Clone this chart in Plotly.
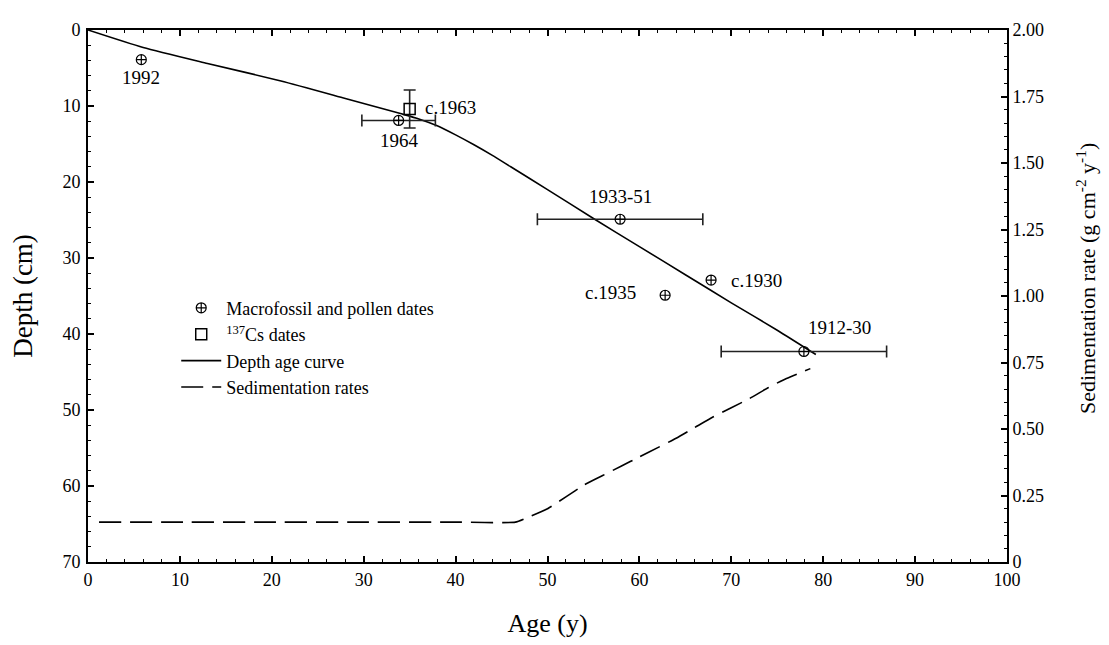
import plotly.graph_objects as go

# ---------------- data ----------------
# Depth-age curve (age in years, depth in cm)
curve_age = [0, 6, 13, 21, 28, 34, 36, 38, 40, 42, 44, 46, 50, 55, 60, 65, 70, 75, 79.2]
curve_depth = [0, 2.3, 4.4, 6.7, 9.0, 11.0, 11.7, 12.6, 13.8, 15.1, 16.5, 18.0, 21.0,
               24.8, 28.5, 32.2, 35.9, 39.5, 42.7]

# Sedimentation rates (age in years, rate in g cm-2 y-1)
sed_age = [1.2, 10, 20, 30, 40, 46.5, 48, 50, 52, 54, 56, 58, 60, 62, 64, 66, 68, 70, 72,
           74, 76, 78.6]
sed_rate = [0.15, 0.15, 0.15, 0.15, 0.15, 0.15, 0.17, 0.20, 0.245, 0.29, 0.325, 0.36,
            0.395, 0.43, 0.465, 0.505, 0.545, 0.58, 0.615, 0.655, 0.69, 0.727]

# Macrofossil and pollen dates
mp_age = [5.8, 33.8, 57.9, 62.8, 67.8, 77.9]
mp_depth = [3.9, 11.9, 24.9, 34.9, 32.9, 42.3]
mp_age_err = [0, 4, 9, 0, 0, 9]
mp_label = ["1992", "1964", "1933-51", "c.1935", "c.1930", "1912-30"]

# 137Cs dates
cs_age = [35.0]
cs_depth = [10.4]
cs_depth_err = [2.5]
cs_label = ["c.1963"]

# tick labels
x_ticks = [0, 10, 20, 30, 40, 50, 60, 70, 80, 90, 100]
y_ticks = [0, 10, 20, 30, 40, 50, 60, 70]
y2_ticks = [0, 0.25, 0.5, 0.75, 1.0, 1.25, 1.5, 1.75, 2.0]
y2_ticktext = ["0", "0.25", "0.50", "0.75", "1.00", "1.25", "1.50", "1.75", "2.00"]

FONT = "Liberation Serif, Times New Roman, serif"

fig = go.Figure()

# depth-age curve
fig.add_trace(go.Scatter(x=curve_age, y=curve_depth, mode="lines",
                         line=dict(color="black", width=1.6, shape="spline", smoothing=0.6),
                         name="Depth age curve", showlegend=False))

# macrofossil points without error bars (legend entry)
noerr = [i for i, e in enumerate(mp_age_err) if e == 0]
witherr = [i for i, e in enumerate(mp_age_err) if e > 0]
marker_mp = dict(symbol="circle-cross-open", size=10, color="black",
                 line=dict(color="black", width=1.2))
fig.add_trace(go.Scatter(x=[mp_age[i] for i in noerr], y=[mp_depth[i] for i in noerr],
                         mode="markers", marker=marker_mp,
                         name="Macrofossil and pollen dates", showlegend=True))
fig.add_trace(go.Scatter(x=[mp_age[i] for i in witherr], y=[mp_depth[i] for i in witherr],
                         mode="markers", marker=marker_mp,
                         error_x=dict(type="data", array=[mp_age_err[i] for i in witherr],
                                      color="#222", thickness=1.6, width=6),
                         name="Macrofossil and pollen dates", showlegend=False))

# 137Cs dates
fig.add_trace(go.Scatter(x=cs_age, y=cs_depth, mode="markers",
                         marker=dict(symbol="square-open", size=11, color="black",
                                     line=dict(color="black", width=1.5)),
                         error_y=dict(type="data", array=cs_depth_err,
                                      color="#222", thickness=1.6, width=6),
                         name="<sup>137</sup>Cs dates"))

# legend-only entry for the depth age curve (keeps legend order)
fig.add_trace(go.Scatter(x=[None], y=[None], mode="lines",
                         line=dict(color="black", width=1.6), name="Depth age curve"))

# sedimentation rates on secondary axis
fig.add_trace(go.Scatter(x=sed_age, y=sed_rate, mode="lines", yaxis="y2",
                         line=dict(color="black", width=1.6, dash="22px,9px",
                                   shape="spline", smoothing=0.5),
                         name="Sedimentation rates"))

# labels for points
lab_pos = {
    "1992": dict(dx=0, dy=2.4, xanchor="center"),
    "1964": dict(dx=0.1, dy=2.6, xanchor="center"),
    "1933-51": dict(dx=0, dy=-3.0, xanchor="center"),
    "c.1935": dict(dx=-2.9, dy=-0.3, xanchor="right"),
    "c.1930": dict(dx=1.9, dy=0.0, xanchor="left"),
    "1912-30": dict(dx=3.9, dy=-3.2, xanchor="center"),
}
for a, d, lab in zip(mp_age, mp_depth, mp_label):
    p = lab_pos[lab]
    fig.add_annotation(x=a + p["dx"], y=d + p["dy"], text=lab, showarrow=False,
                       xanchor=p["xanchor"], yanchor="middle",
                       font=dict(family=FONT, size=19, color="black"))
for a, d, lab in zip(cs_age, cs_depth, cs_label):
    fig.add_annotation(x=a + 1.5, y=d - 0.2, text=lab, showarrow=False,
                       xanchor="left", yanchor="middle",
                       font=dict(family=FONT, size=19, color="black"))

# right axis title (placed as rotated text so it sits where the reference has it)
fig.add_annotation(xref="paper", yref="paper", x=1.086, y=0.532,
                   text="Sedimentation rate (g cm<sup>-2</sup> y<sup>-1</sup>)",
                   textangle=-90, showarrow=False, xanchor="center", yanchor="middle",
                   font=dict(family=FONT, size=22, color="black"))

axis_common = dict(showgrid=False, zeroline=False, showline=True, linecolor="black",
                   linewidth=2, ticks="inside", ticklen=6, tickwidth=1.5, tickcolor="black",
                   tickfont=dict(family=FONT, size=18, color="black"))

fig.update_layout(
    width=1101, height=637,
    margin=dict(l=80, r=102, t=16, b=78),
    paper_bgcolor="white", plot_bgcolor="white",
    font=dict(family=FONT, size=18, color="black"),
    xaxis=dict(range=[0, 100], tickvals=x_ticks, mirror="ticks",
               minor=dict(dtick=2, ticks="inside", ticklen=3, tickcolor="black", tickwidth=1),
               title=dict(text="Age (y)", font=dict(family=FONT, size=26), standoff=25),
               **axis_common),
    yaxis=dict(range=[70, 0], tickvals=y_ticks, ticklabelstandoff=2,
               minor=dict(dtick=2, ticks="inside", ticklen=3, tickcolor="black", tickwidth=1),
               title=dict(text="Depth (cm)", font=dict(family=FONT, size=27), standoff=22),
               **axis_common),
    yaxis2=dict(range=[0, 2], overlaying="y", side="right", tickvals=y2_ticks,
                ticktext=y2_ticktext,
                minor=dict(dtick=0.05, ticks="inside", ticklen=3, tickcolor="black", tickwidth=1),
                **axis_common),
    legend=dict(x=0.096, y=0.512, xanchor="left", yanchor="top",
                bgcolor="rgba(0,0,0,0)", borderwidth=0,
                font=dict(family=FONT, size=18, color="black"),
                tracegroupgap=0, itemwidth=40),
    showlegend=True,
)

fig.write_html("out.html")
